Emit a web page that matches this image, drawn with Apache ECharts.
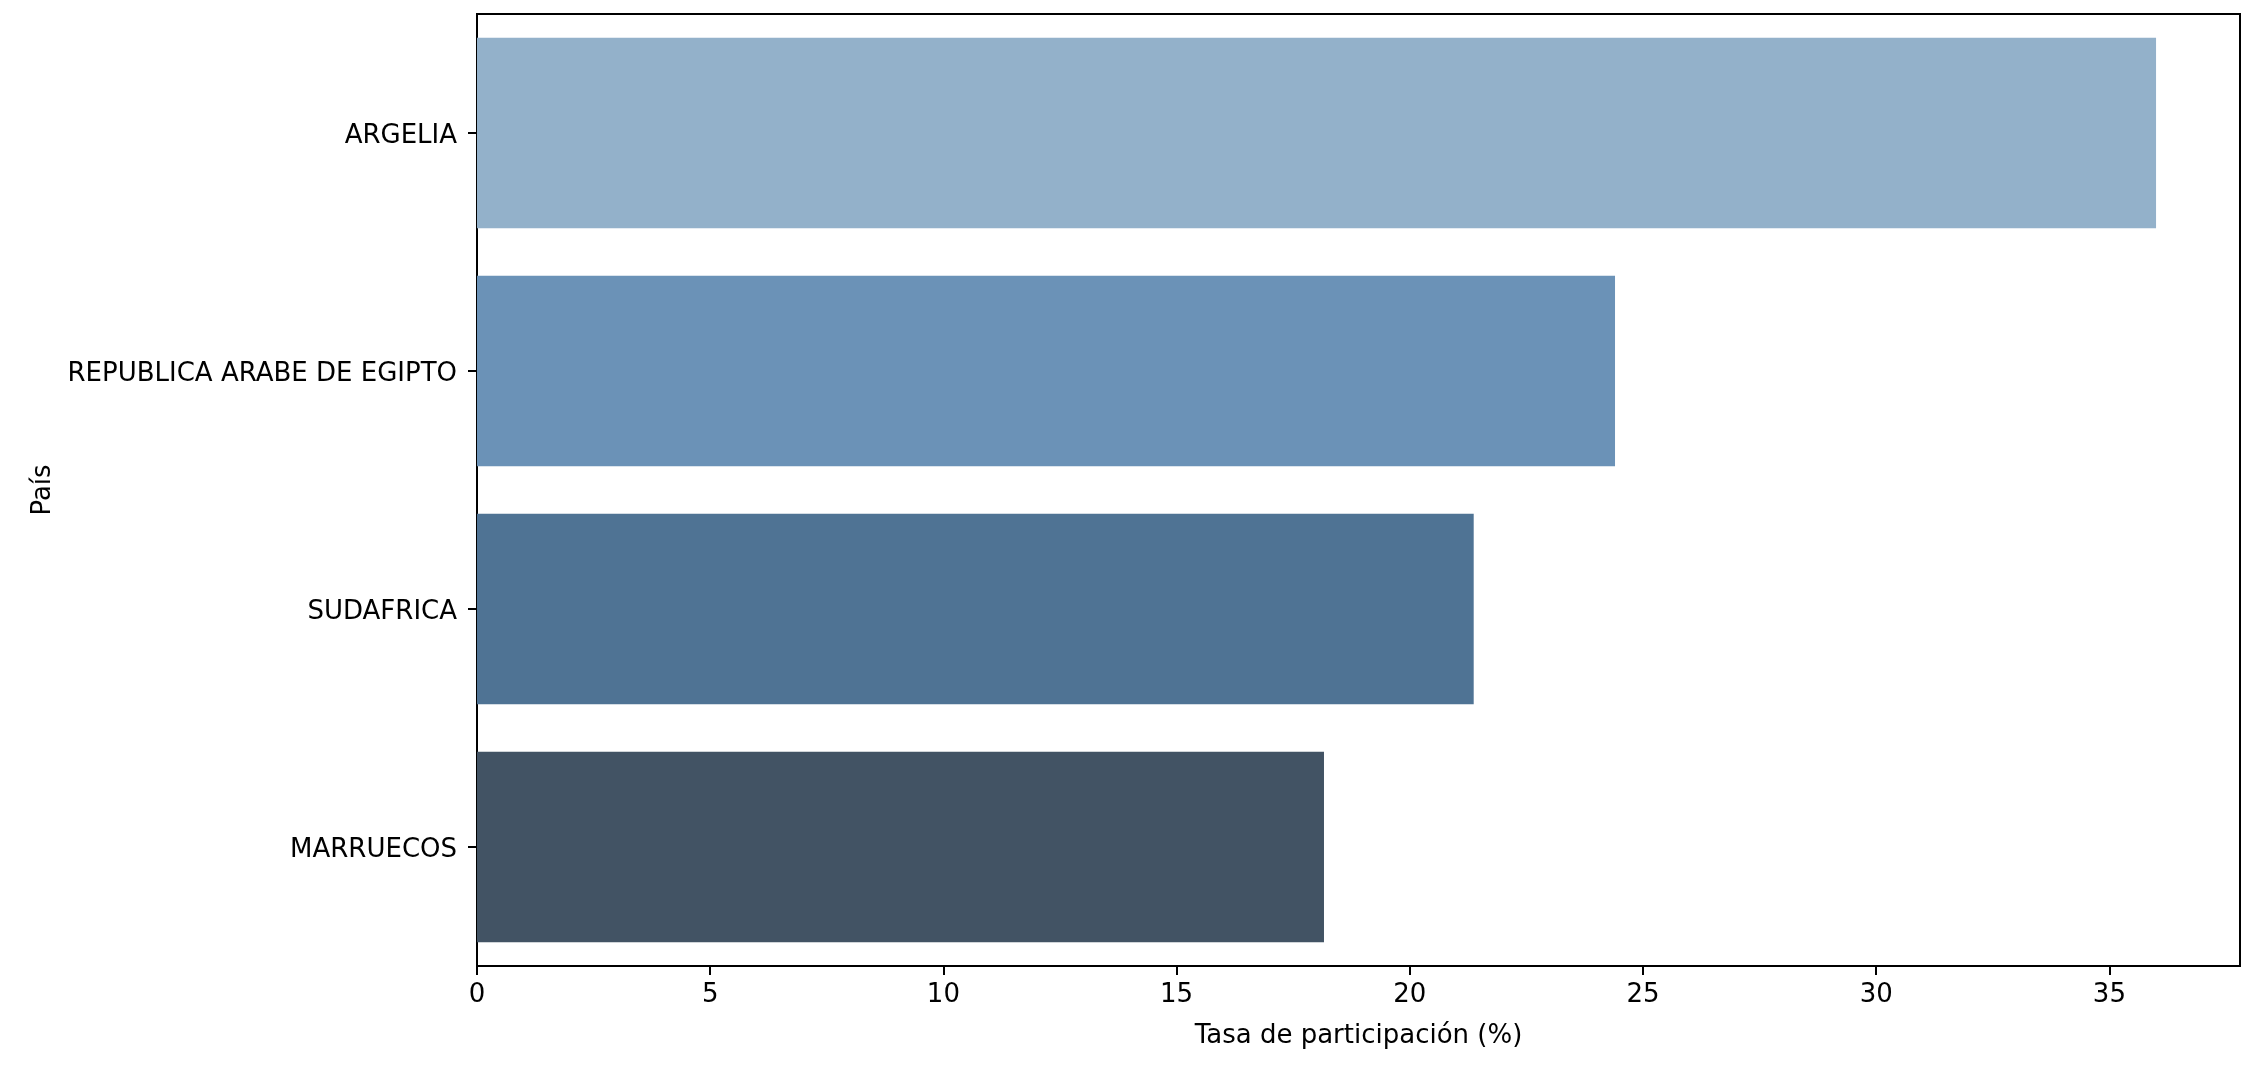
<!DOCTYPE html>
<html lang="es">
<head>
    <meta charset="UTF-8">
    <title>Tasa de participación por país</title>
    <style>
        html, body {
            margin: 0;
            padding: 0;
            background: #fff;
        }
        #main {
            width: 2254px;
            height: 1072px;
        }
    </style>
</head>
<body>
<div id="main"></div>
<script src="https://cdn.jsdelivr.net/npm/echarts@6/dist/echarts.min.js"></script>
<script>
    var paises = ['ARGELIA', 'REPUBLICA ARABE DE EGIPTO', 'SUDAFRICA', 'MARRUECOS'];
    var tasas = [36.0, 24.4, 21.37, 18.16];
    var colores = ['#93b1ca', '#6b92b7', '#4f7394', '#425364'];
    var ticksX = [0, 5, 10, 15, 20, 25, 30, 35];

    var fuente = 'DejaVu Sans';
    var chart = echarts.init(document.getElementById('main'));

    chart.setOption({
        backgroundColor: '#fff',
        animation: false,
        textStyle: {fontFamily: fuente, color: '#000'},
        grid: {
            left: 477,
            right: 14,
            top: 14,
            bottom: 106,
            show: true,
            borderColor: '#000',
            borderWidth: 2,
            backgroundColor: 'transparent'
        },
        xAxis: {
            type: 'value',
            min: 0,
            max: 37.8,
            interval: 5,
            name: 'Tasa de participación (%)',
            nameLocation: 'middle',
            nameGap: 57,
            nameTextStyle: {fontFamily: fuente, fontSize: 26, color: '#000'},
            splitLine: {show: false},
            axisLine: {show: true, lineStyle: {color: '#000', width: 2}},
            axisTick: {
                show: true,
                length: 9,
                lineStyle: {color: '#000', width: 2},
                customValues: ticksX
            },
            axisLabel: {
                fontFamily: fuente,
                fontSize: 26,
                color: '#000',
                margin: 16,
                customValues: ticksX
            }
        },
        yAxis: {
            type: 'category',
            data: paises,
            inverse: true,
            name: 'País',
            nameLocation: 'middle',
            nameRotate: 90,
            nameGap: 421,
            nameTextStyle: {fontFamily: fuente, fontSize: 26, color: '#000'},
            axisLine: {show: true, lineStyle: {color: '#000', width: 2}},
            axisTick: {
                show: true,
                length: 9,
                alignWithLabel: true,
                lineStyle: {color: '#000', width: 2}
            },
            axisLabel: {
                fontFamily: fuente,
                fontSize: 26,
                color: '#000',
                margin: 20,
                // bajar un poco el texto, como en matplotlib
                formatter: function (v) {
                    return '{p|' + v + '}';
                },
                rich: {
                    p: {
                        fontFamily: fuente,
                        fontSize: 26,
                        color: '#000',
                        padding: [6, 0, 0, 0]
                    }
                }
            },
            splitLine: {show: false}
        },
        series: [
            {
                name: 'Tasa de participación',
                type: 'bar',
                barCategoryGap: '20%',
                data: tasas.map(function (v, i) {
                    return {value: v, itemStyle: {color: colores[i]}};
                })
            }
        ]
    });
</script>
</body>
</html>
